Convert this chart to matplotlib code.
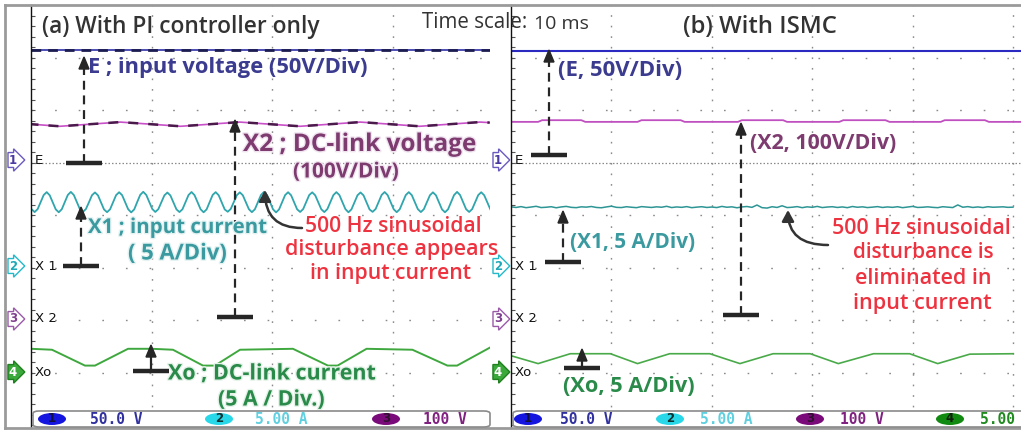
import matplotlib
matplotlib.use('Agg')
import matplotlib.pyplot as plt
import numpy as np
from matplotlib.lines import Line2D
from matplotlib.patches import Polygon, Ellipse, FancyBboxPatch, Rectangle, FancyArrowPatch
import matplotlib.patheffects as pe

# ---------------- data (physical units, time in ms) ----------------
# channel scales (per division) and ground offsets (divisions)
ch_scale = {'E': 50.0, 'X1': 5.0, 'X2': 100.0, 'Xo': 5.0}
ch_offset = {'E': 5.0, 'X1': 3.0, 'X2': 2.0, 'Xo': 1.0}

# (a) PI controller only
t_E_a = [0.0, 38.0]
E_a = [107.0, 107.0]

t_X2_a = [0.0, 2.4, 7.4, 12.4, 17.3, 22.3, 27.3, 32.2, 37.2, 38.0]
X2_a = [373, 369, 377, 369, 377, 369, 377, 369, 377, 376]

X1_a = [5.55,
        5.28, 5.56, 6.22, 6.90, 7.18, 6.88, 6.21, 5.54,
        5.26, 5.55, 6.23, 6.91, 7.20, 6.90, 6.23, 5.56,
        5.30, 5.57, 6.21, 6.88, 7.15, 6.87, 6.20, 5.53,
        5.27, 5.54, 6.22, 6.89, 7.17, 6.89, 6.22, 5.55,
        5.25, 5.53, 6.24, 6.92, 7.21, 6.91, 6.24, 5.57,
        5.29, 5.56, 6.21, 6.87, 7.14, 6.86, 6.20, 5.54,
        5.28, 5.55, 6.22, 6.90, 7.19, 6.89, 6.22, 5.55,
        5.26, 5.54, 6.23, 6.91, 7.18, 6.88, 6.21, 5.53,
        5.31, 5.58, 6.22, 6.88, 7.16, 6.88, 6.22, 5.56,
        5.27, 5.55, 6.22, 6.90, 7.20, 6.91, 6.23, 5.55,
        5.25, 5.53, 6.21, 6.89, 7.17, 6.88, 6.21, 5.54,
        5.29, 5.57, 6.23, 6.90, 7.16, 6.87, 6.21, 5.55,
        5.28, 5.56, 6.22, 6.89, 7.18, 6.90, 6.23, 5.56,
        5.26, 5.54, 6.21, 6.88, 7.15, 6.87, 6.20, 5.53,
        5.30, 5.57, 6.23, 6.91, 7.19, 6.89, 6.22, 5.55,
        5.27, 5.55, 6.22, 6.90, 7.18, 6.89, 6.22, 5.56,
        5.28, 5.56, 6.21, 6.88, 7.16, 6.88, 6.21, 5.54,
        5.26, 5.54, 6.22, 6.90, 7.20, 6.90, 6.23, 5.55,
        5.29, 5.56, 6.22, 6.89, 7.17, 6.88, 6.22, 5.56]
t_X1_a = 0.05 + 0.25 * np.arange(len(X1_a))  # sampling instants

t_Xo_a = [0.0, 1.74, 4.47, 5.30, 8.04, 10.03, 11.76, 14.25, 15.24, 17.32,
          21.7, 24.6, 25.4, 27.8, 31.6, 34.5, 35.3, 38.0]
Xo_a = [2.26, 2.17, 0.66, 0.66, 2.26, 2.26, 2.17, 0.66, 0.66, 2.17,
        2.26, 0.66, 0.66, 2.26, 2.17, 0.66, 0.66, 2.36]

# (b) ISMC
t_E_b = [0.0, 50.8]
E_b = [106.6, 106.6]

t_X2_b = [0, 2.7, 3.1, 7.0, 7.4, 12.6, 13.0, 16.9, 17.3, 22.6, 23.0, 27.1,
          27.5, 32.7, 33.1, 37.3, 37.7, 42.8, 43.2, 47.2, 47.6, 50.8]
X2_b = [377.4, 377.4, 380.6, 380.6, 377.4, 377.4, 380.6, 380.6, 377.4, 377.4,
        380.6, 380.6, 377.4, 377.4, 380.6, 380.6, 377.4, 377.4, 380.6, 380.6,
        377.4, 377.4]

X1_b = [5.78, 5.72, 5.80, 5.70, 5.76, 5.83, 5.71, 5.74, 5.79, 5.69,
        5.77, 5.82, 5.73, 5.70, 5.78, 5.75, 5.81, 5.72, 5.69, 5.77,
        5.84, 5.73, 5.71, 5.79, 5.74, 5.70, 5.80, 5.76, 5.72, 5.78,
        5.74, 5.83, 5.71, 5.77, 5.73, 5.80, 5.70, 5.75, 5.79, 5.72,
        5.76, 5.71, 5.82, 5.74, 5.78, 5.69, 5.77, 5.81, 5.73, 5.95,
        5.70, 5.66, 5.79, 5.72, 5.88, 5.71, 5.74, 5.80, 5.70, 5.78,
        5.73, 5.82, 5.71, 5.76, 5.79, 5.72, 5.77, 5.70, 5.81, 5.74,
        5.78, 5.71, 5.75, 5.80, 5.72, 5.77, 5.73, 5.79, 5.70, 5.76,
        5.82, 5.72, 5.74, 5.78, 5.73, 5.70, 5.79, 5.75, 5.71, 5.96,
        5.74, 5.80, 5.72, 5.77, 5.71, 5.79, 5.74, 5.76, 5.78, 5.73, 5.75]
t_X1_b = 0.5 * np.arange(len(X1_b))  # sampling instants

t_Xo_b = [0, 2.7, 5.9, 9.9, 12.6, 15.8, 19.8, 22.8, 26.1, 29.8, 32.6, 36.1,
          39.7, 42.5, 45.7, 50.0]
Xo_b = [1.60, 0.85, 1.79, 1.79, 0.85, 1.79, 1.79, 0.85, 1.79, 1.79, 0.85,
        1.79, 1.79, 0.85, 1.75, 1.79]

readout_a = [('1', '50.0 V'), ('2', '5.00 A'), ('3', '100 V')]
readout_b = [('1', '50.0 V'), ('2', '5.00 A'), ('3', '100 V'), ('4', '5.00')]

# ---------------- figure ----------------
W, H = 1021, 432
fig = plt.figure(figsize=(W / 100, H / 100), dpi=100)
fig.patch.set_facecolor('white')
renderer = fig.canvas.get_renderer()
FT = fig.transFigure


def F(x, y):
    return (x / W, 1 - y / H)


def fline(xs, ys, **kw):
    fig.add_artist(Line2D([x / W for x in xs], [1 - y / H for y in ys], transform=FT, **kw))


def fit_text(x0, x1, yc, s, color, weight='bold', family='Open Sans', size=14, halo=None, **kw):
    t = fig.text(*F(x0, yc), s, ha='left', va='center', color=color, fontsize=size,
                 fontweight=weight, family=family, **kw)
    w = t.get_window_extent(renderer).width
    t.set_fontsize(size * (x1 - x0) / w)
    if halo:
        t.set_path_effects([pe.withStroke(linewidth=2.0, foreground=halo)])
    return t


def pointer(xc, ybar, ytip, dashed=True):
    fline([xc - 18, xc + 18], [ybar, ybar], lw=3.2, color='#262626', solid_capstyle='butt')
    ls = (0, (4, 2.6)) if dashed else '-'
    fline([xc, xc], [ybar, ytip + 10], lw=1.6, ls=ls, color='#262626')
    fig.add_artist(Polygon([F(xc - 5, ytip + 12), F(xc + 5, ytip + 12), F(xc, ytip)],
                           closed=True, color='#262626', transform=FT))


def curved(x0, y0, x1, y1):
    fig.add_artist(FancyArrowPatch(posA=F(x0, y0), posB=F(x1, y1), transform=FT,
                                   arrowstyle='-|>,head_length=0.55,head_width=0.3',
                                   connectionstyle='angle3,angleA=0,angleB=90',
                                   mutation_scale=12, lw=1.8, color='#333333',
                                   shrinkA=0, shrinkB=0))


# outer frame
fline([5, 1021], [5, 5], lw=2, color='#9a9a9a')
fline([5, 5], [5, 428], lw=2, color='#9a9a9a')
fline([5, 1021], [428, 428], lw=2, color='#9a9a9a')

DIV = 53.0


def make_axes(x0, x1, px_per_ms):
    ax = fig.add_axes([x0 / W, (H - 428) / H, (x1 - x0) / W, (428 - 5) / H])
    ax.set_xlim(0, (x1 - x0) / px_per_ms)
    ax.set_ylim((425 - 428) / DIV, (425 - 5) / DIV)
    ax.patch.set_alpha(0)
    for s in ['top', 'right', 'bottom']:
        ax.spines[s].set_visible(False)
    ax.spines['left'].set_color('#111111')
    ax.spines['left'].set_linewidth(1.0)
    ax.set_xticks([])
    ax.set_yticks(np.arange(0, 8.01, 0.2))
    ax.tick_params(axis='y', direction='in', length=3, width=0.8, color='#555555', labelleft=False)
    # dotted graticule
    for d in [1, 2, 3, 4, 6, 7]:
        ax.axhline(d, ls=(0, (1.2, 15.8)), lw=1, color='#8a8a8a', zorder=0)
    ax.axhline(5, ls=(0, (1.2, 1.6)), lw=0.9, color='#8a8a8a', zorder=0)
    for t in np.arange(10, (x1 - x0) / px_per_ms, 10):
        ax.axvline(t, ls=(0, (1.2, 6.4)), lw=1, color='#8a8a8a', zorder=0)
    return ax


ax_a = make_axes(31, 490, 12.07)
ax_b = make_axes(511, 1021, 10.04)


def trace(ax, name, t, v, **kw):
    ax.plot(t, np.asarray(v, dtype=float) / ch_scale[name] + ch_offset[name], **kw)


# panel (a) traces
trace(ax_a, 'E', t_E_a, E_a, color='#3030a8', lw=1.2)
trace(ax_a, 'E', t_E_a, E_a, color='#1c1c50', lw=2.0, ls=(0, (3.5, 2.5)))
trace(ax_a, 'X2', t_X2_a, X2_a, color='#c850c8', lw=1.2)
trace(ax_a, 'X2', t_X2_a, X2_a, color='#4a1a4a', lw=1.8, ls=(1, (4, 4)))
trace(ax_a, 'X1', t_X1_a, X1_a, color='#2fa5ad', lw=1.3)
trace(ax_a, 'Xo', t_Xo_a, Xo_a, color='#3ea83e', lw=1.4)

# panel (b) traces
trace(ax_b, 'E', t_E_b, E_b, color='#2a2ac0', lw=1.5)
trace(ax_b, 'X2', t_X2_b, X2_b, color='#c050c0', lw=1.3)
trace(ax_b, 'X1', t_X1_b, X1_b, color='#2e9595', lw=1.1)
trace(ax_b, 'Xo', t_Xo_b, Xo_b, color='#4aaa4a', lw=1.2)

# channel reference labels
for (lbl, y) in [('E', 160), ('X1', 266), ('X2', 319), ('Xo', 372)]:
    s = lbl if lbl in ('E', 'Xo') else lbl[0] + ' ' + lbl[1]
    for x in (35, 515):
        fig.text(*F(x, y), s, fontsize=9.5, family='DejaVu Sans', ha='left', va='center',
                 color='#111111')

marker_style = {
    '1': dict(fc='white', ec='#6a5ac0', tc='#4a3aa0'),
    '2': dict(fc='white', ec='#25b8c8', tc='#20a8b8'),
    '3': dict(fc='white', ec='#9a5aa8', tc='#804090'),
    '4': dict(fc='#3aa83a', ec='#208020', tc='white'),
}
for (num, y) in [('1', 160), ('2', 266), ('3', 319), ('4', 372)]:
    st = marker_style[num]
    for x in (13, 498):
        fig.text(*F(x, y), num, fontsize=8.5, fontweight='bold', family='DejaVu Sans',
                 ha='center', va='center', color=st['tc'],
                 bbox=dict(boxstyle='rarrow,pad=0.08', fc=st['fc'], ec=st['ec'], lw=1))

# readout bars
for (x0, x1) in [(31, 490), (511, 1030)]:
    fig.add_artist(FancyBboxPatch(F(x0 + 2, 427), (x1 - x0 - 2) / W, 16 / H,
                                  boxstyle='round,pad=0,rounding_size=0.006', transform=FT,
                                  fc='white', ec='#8a8a8a', lw=1.2, zorder=5))

ell_col = {'1': '#1515e0', '2': '#28d8e8', '3': '#7a0a7a', '4': '#108a10'}
txt_col = {'1': '#3030a0', '2': '#60d0e0', '3': '#802080', '4': '#208a20'}
txt_num = {'1': '#101040', '2': '#103030', '3': '#301030', '4': '#102010'}


def readout(items, ell_x, txt_x):
    for (num, s), ex, tx in zip(items, ell_x, txt_x):
        fig.add_artist(Ellipse(F(ex, 419), 28 / W, 12 / H, transform=FT,
                               fc=ell_col[num], ec='none', zorder=6))
        fig.text(*F(ex, 419), num, fontsize=8.5, fontweight='bold', ha='center', va='center',
                 color=txt_num[num], zorder=7)
        fig.text(*F(tx, 419), s, fontsize=10.5, fontweight='bold', family='DejaVu Sans Mono',
                 ha='left', va='center', color=txt_col[num], zorder=7)


readout(readout_a, [52, 219, 386], [90, 255, 423])
readout(readout_b, [528, 670, 810, 950], [560, 700, 840, 980])

# titles
fit_text(42, 323, 27, '(a) With PI controller only', '#333333', weight='semibold')
fit_text(422, 528, 22, 'Time scale:', '#333333', weight='normal')
fig.text(*F(534, 24), '10 ms', fontsize=14, family='Open Sans', ha='left', va='center',
         color='#333333')
fit_text(683, 838, 27, '(b) With ISMC', '#333333', weight='semibold')

# pointers
pointer(84, 163, 57)
pointer(235, 317, 120)
pointer(81, 266, 207)
pointer(151, 371, 345, dashed=False)
pointer(549, 155, 50)
pointer(741, 315, 123)
pointer(563, 262, 211)
pointer(582, 368, 349, dashed=False)

# annotation texts, panel (a)
NAVY = '#3b3b8f'
PURP = '#7d3b70'
TEAL = '#3a9aa0'
RED = '#ee3340'
GRN = '#2a8a4a'
fit_text(88, 368, 68, 'E ; input voltage (50V/Div)', NAVY)
fit_text(243, 478, 145, 'X2 ; DC-link voltage', PURP, halo='#efe4ef')
fit_text(293, 399, 172, '(100V/Div)', PURP, halo='#efe4ef')
fit_text(88, 268, 228, 'X1 ; input current', TEAL, halo='#e4f2f2')
fit_text(128, 227, 254, '( 5 A/Div)', TEAL, halo='#e4f2f2')
fit_text(305, 483, 226, '500 Hz sinusoidal', RED, weight='semibold')
fit_text(285, 500, 250, 'disturbance appears', RED, weight='semibold')
fit_text(310, 473, 273, 'in input current', RED, weight='semibold')
fit_text(168, 377, 374, 'Xo ; DC-link current', GRN, halo='#e4f2e8')
fit_text(218, 325, 400, '(5 A / Div.)', GRN, halo='#e4f2e8')
curved(302, 228, 265, 190)

# annotation texts, panel (b)
fit_text(558, 682, 70, '(E, 50V/Div)', NAVY)
fit_text(750, 897, 143, '(X2, 100V/Div)', PURP)
fit_text(570, 695, 242, '(X1, 5 A/Div)', TEAL)
fit_text(832, 1012, 228, '500 Hz sinusoidal', RED, weight='semibold')
fit_text(853, 995, 253, 'disturbance is', RED, weight='semibold')
fit_text(855, 993, 278, 'eliminated in', RED, weight='semibold')
fit_text(853, 993, 303, 'input current', RED, weight='semibold')
fit_text(563, 695, 387, '(Xo, 5 A/Div)', GRN)
curved(828, 245, 788, 210)

fig.savefig('out.png', dpi=100, facecolor='white')
